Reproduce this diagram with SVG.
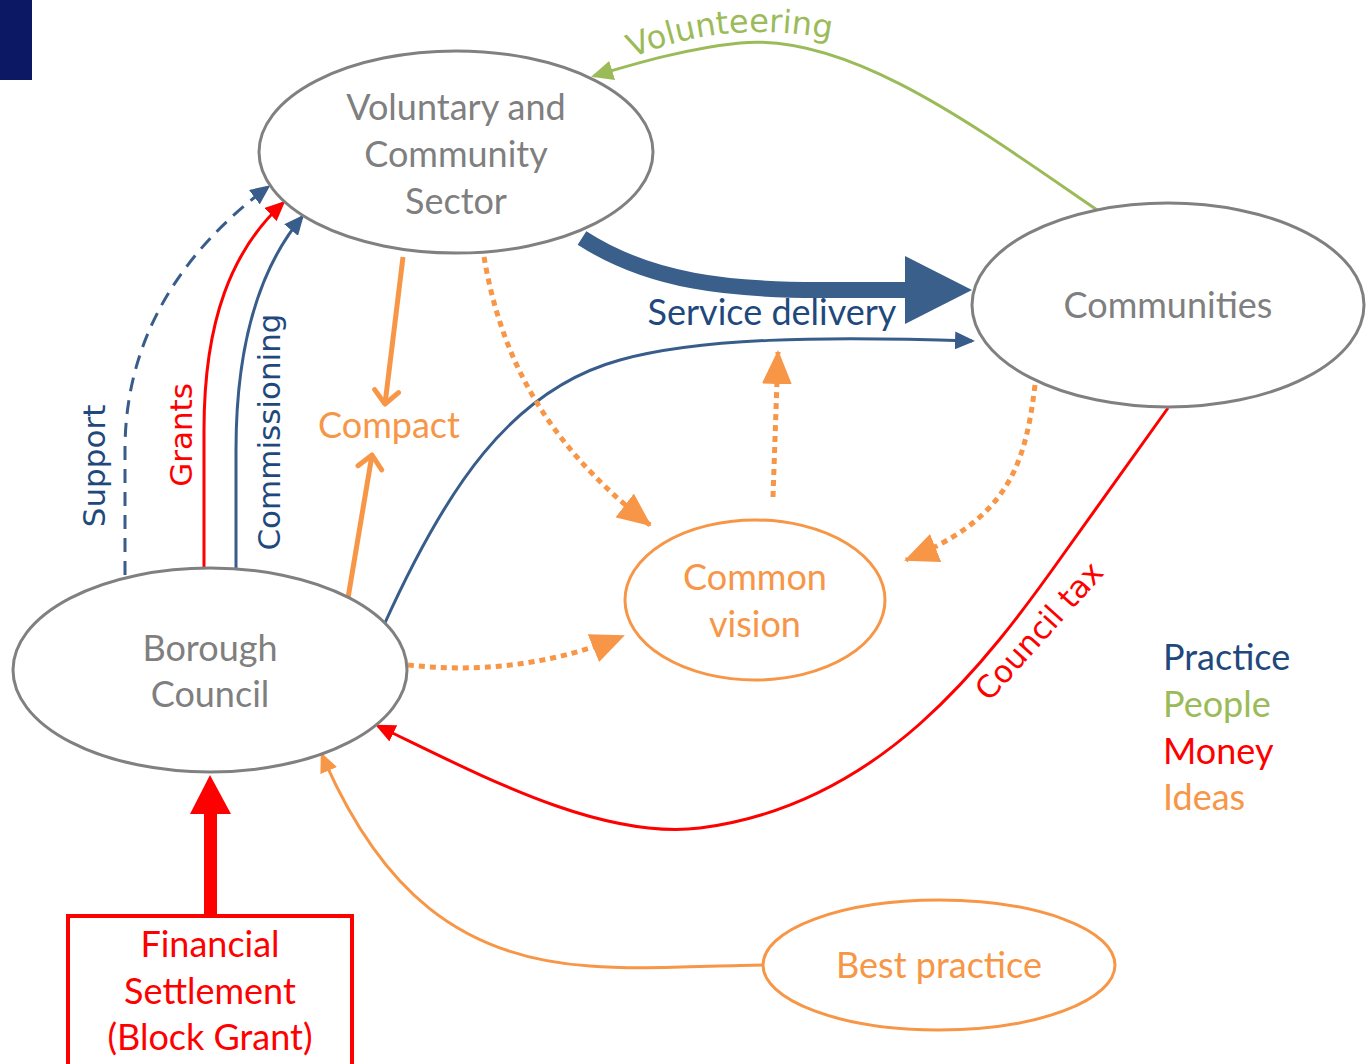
<svg xmlns="http://www.w3.org/2000/svg" width="1366" height="1064" viewBox="0 0 1366 1064">
<style>
.node{fill:#ffffff;stroke:#808080;stroke-width:3}
.onode{fill:#ffffff;stroke:#f79646;stroke-width:3}
.lbl{font-family:Lato,"Liberation Sans",sans-serif;font-size:36px;text-anchor:middle}
.rot{font-family:"DejaVu Sans",Verdana,sans-serif;font-size:31px;text-anchor:middle}
.gray{fill:#7f7f7f}
.orange{fill:#f79646}
.red{fill:#ff0000}
.blue{fill:#1f497d}
.green{fill:#9bbb59}
.c{fill:none}
.cb{stroke:#385d8a;stroke-width:3}
.cr{stroke:#ff0000;stroke-width:3}
.cg{stroke:#9bbb59;stroke-width:3}
.co{stroke:#f79646;stroke-width:3}
.dot{stroke:#f79646;stroke-width:5;stroke-dasharray:6 5}
</style>
<defs>
<marker id="ab" markerUnits="userSpaceOnUse" markerWidth="20" markerHeight="18" refX="17" refY="9" orient="auto"><path d="M0,0 L20,9 L0,18 z" fill="#385d8a"/></marker>
<marker id="ar" markerUnits="userSpaceOnUse" markerWidth="20" markerHeight="18" refX="17" refY="9" orient="auto"><path d="M0,0 L20,9 L0,18 z" fill="#ff0000"/></marker>
<marker id="ag" markerUnits="userSpaceOnUse" markerWidth="22" markerHeight="20" refX="19" refY="10" orient="auto"><path d="M0,0 L22,10 L0,20 z" fill="#9bbb59"/></marker>
<marker id="ao" markerUnits="userSpaceOnUse" markerWidth="20" markerHeight="18" refX="17" refY="9" orient="auto"><path d="M0,0 L20,9 L0,18 z" fill="#f79646"/></marker>
<marker id="ado" markerUnits="userSpaceOnUse" markerWidth="34" markerHeight="30" refX="32" refY="15" orient="auto"><path d="M0,0 L34,15 L0,30 z" fill="#f79646"/></marker>
<marker id="aopen" markerUnits="userSpaceOnUse" markerWidth="24" markerHeight="30" refX="16" refY="15" orient="auto"><path d="M3,3 L16,15 L3,27" fill="none" stroke="#f79646" stroke-width="5" stroke-linecap="round" stroke-linejoin="round"/></marker>
</defs>
<rect x="0" y="0" width="32" height="80" fill="#0d1865"/>
<g id="connectors">
<path class="c cg" d="M1100,212 C980,130 850,32 740,43 C690,48 640,62 594,76" marker-end="url(#ag)"/>
<path d="M582,238 C650,282 730,290 820,290 L908,290" fill="none" stroke="#3a5f8b" stroke-width="16"/>
<polygon points="905,256 972,290 905,324" fill="#3a5f8b"/>
<path class="c cb" d="M384,625 C445,490 510,390 620,360 C700,338 820,336 972,341" marker-end="url(#ab)"/>
<path class="c cb" d="M125,575 L125,450 C125,330 190,245 268,187" stroke-dasharray="14 9" marker-end="url(#ab)"/>
<path class="c cr" d="M204,568 L204,430 C204,320 232,250 283,203" marker-end="url(#ar)"/>
<path class="c cb" d="M236,570 L236,450 C236,340 262,265 302,217" marker-end="url(#ab)"/>
<path class="c" d="M403,257 L385,404" stroke="#f79646" stroke-width="5" marker-end="url(#aopen)"/>
<path class="c" d="M348,598 L372,455" stroke="#f79646" stroke-width="5" marker-end="url(#aopen)"/>
<path class="c dot" d="M484,257 C500,350 540,440 650,525" marker-end="url(#ado)"/>
<path class="c dot" d="M773,497 L778,352" marker-end="url(#ado)"/>
<path class="c dot" d="M1035,385 C1025,470 1005,520 906,560" marker-end="url(#ado)"/>
<path class="c dot" d="M408,665 C470,672 545,668 623,636" marker-end="url(#ado)"/>
<path class="c cr" d="M1168,408 L1065,552 C985,665 880,805 700,828 C600,840 480,775 378,726" marker-end="url(#ar)"/>
<path class="c co" d="M763,965 C700,966 640,970 590,966 C460,958 380,890 322,755" marker-end="url(#ao)"/>
<rect x="204" y="812" width="13" height="105" fill="#ff0000"/>
<polygon points="190,814 231,814 210,775" fill="#ff0000"/>
</g>
<g id="vcs">
<ellipse class="node" cx="456" cy="152" rx="197" ry="101"/>
<text class="lbl gray" x="456" y="120">Voluntary and</text>
<text class="lbl gray" x="456" y="167">Community</text>
<text class="lbl gray" x="456" y="214">Sector</text>
</g>
<g id="communities">
<ellipse class="node" cx="1168" cy="305" rx="196" ry="102"/>
<text class="lbl gray" x="1168" y="318">Communities</text>
</g>
<g id="borough">
<ellipse class="node" cx="210" cy="670" rx="197" ry="102"/>
<text class="lbl gray" x="210" y="661">Borough</text>
<text class="lbl gray" x="210" y="707">Council</text>
</g>
<g id="common-vision">
<ellipse class="onode" cx="755" cy="600" rx="130" ry="80"/>
<text class="lbl orange" x="755" y="590">Common</text>
<text class="lbl orange" x="755" y="637">vision</text>
</g>
<g id="best-practice">
<ellipse class="onode" cx="939" cy="965" rx="176" ry="65"/>
<text class="lbl orange" x="939" y="978">Best practice</text>
</g>
<g id="financial">
<rect x="68" y="916" width="284" height="170" fill="#ffffff" stroke="#ff0000" stroke-width="4"/>
<text class="lbl red" x="210" y="957">Financial</text>
<text class="lbl red" x="210" y="1004">Settlement</text>
<text class="lbl red" x="210" y="1050">(Block Grant)</text>
</g>
<g id="labels">
<text class="lbl orange" x="389" y="438">Compact</text>
<text class="lbl blue" x="772" y="325">Service delivery</text>
<text class="rot blue" transform="translate(105,466) rotate(-90)">Support</text>
<text class="rot red" transform="translate(192,435) rotate(-90)">Grants</text>
<text class="rot blue" transform="translate(280,432) rotate(-90)">Commissioning</text>
<text class="rot red" transform="translate(1047,638) rotate(-48)">Council tax</text>
<path id="volpath" d="M632,58 Q730,16 845,42" fill="none"/>
<text class="rot green" style="text-anchor:start;font-size:32px"><textPath href="#volpath">Volunteering</textPath></text>
</g>
<g id="legend">
<text class="lbl blue" style="text-anchor:start" x="1163" y="670">Practice</text>
<text class="lbl green" style="text-anchor:start" x="1163" y="717">People</text>
<text class="lbl red" style="text-anchor:start" x="1163" y="764">Money</text>
<text class="lbl orange" style="text-anchor:start" x="1163" y="810">Ideas</text>
</g>
</svg>
